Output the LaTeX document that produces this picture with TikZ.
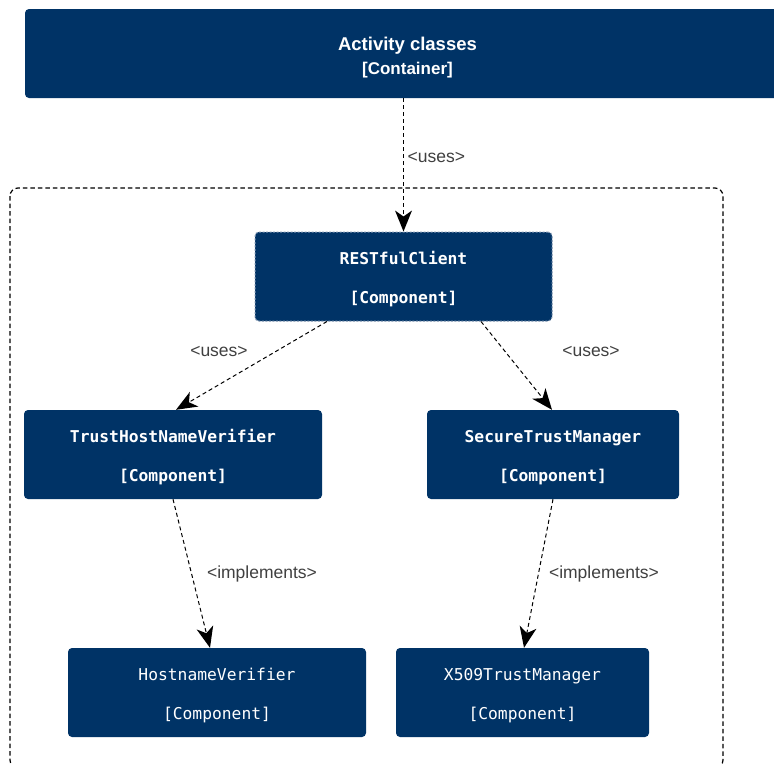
\documentclass[tikz,border=0pt]{standalone}
\usepackage{fontspec}
\setmainfont{Liberation Sans}
\newfontfamily\monof{DejaVu Sans Mono}
\usetikzlibrary{arrows.meta,calc}
\definecolor{navy}{HTML}{003366}
\definecolor{rcedge}{HTML}{7F95B0}
\definecolor{labelgray}{HTML}{404040}
% two centred lines, optionally lowered inside their box
\newcommand{\twoline}[3][0pt]{%
  \raisebox{-#1}[\height][\depth]{\begin{tabular}{@{}c@{}}#2\\{}#3\end{tabular}}}
\tikzset{
  container/.style={fill=navy, draw=none, rounded corners=4pt, text=white,
    inner sep=0pt, font=\fontsize{17}{24}\selectfont\bfseries},
  comp/.style={fill=navy, draw=none, rounded corners=4pt, text=white,
    inner sep=0pt, minimum height=89pt,
    font=\monof\fontsize{16.3}{39}\selectfont\bfseries},
  compthin/.style={comp, font=\monof\fontsize{16.3}{39}\selectfont},
  headtip/.tip={Stealth[length=21pt,width=17pt,inset=6pt,line width=0pt]},
  conn/.style={draw=black, line width=1pt, dash pattern=on 4pt off 3pt,
    -headtip},
  frame/.style={draw=black, line width=1.2pt, dash pattern=on 4.5pt off 3pt,
    rounded corners=8pt},
  lbl/.style={text=labelgray, inner sep=0pt, font=\fontsize{17.5}{20}\selectfont}
}
\begin{document}
\begin{tikzpicture}[x=1pt,y=-1pt]
\useasboundingbox (0,0) rectangle (774,764);
\clip (0,0) rectangle (774,764);
\fill[white] (0,0) rectangle (774,764);

% outer dashed boundary of the component group
\draw[frame] (10,188) rectangle (723,768);

% container box, running past the right edge
\node[container, minimum width=765pt, minimum height=89pt] (act) at (407.5,53.5)
  {\twoline[4pt]{\fontsize{18.5}{24}\selectfont Activity classes}{[Container]}};

% components
\node[comp, minimum width=297pt, draw=rcedge, line width=1pt,
  dash pattern=on 2pt off 1.5pt] (rc) at (403.5,276.5)
  {\twoline{RESTfulClient}{[Component]}};
\node[comp, minimum width=298pt] (thv) at (173,454.5)
  {\twoline{TrustHostNameVerifier}{[Component]}};
\node[comp, minimum width=252pt] (stm) at (553,454.5)
  {\twoline{SecureTrustManager}{[Component]}};
\node[compthin, minimum width=298pt] (hv) at (217,692.5)
  {\twoline{HostnameVerifier}{[Component]}};
\node[compthin, minimum width=253pt] (x509) at (522.5,692.5)
  {\twoline{X509TrustManager}{[Component]}};

% connectors
\draw[conn] (act.south -| rc.north) -- (rc.north);
\draw[conn] ([xshift=-76.5pt]rc.south) -- ([xshift=3pt]thv.north);
\draw[conn] ([xshift=77.5pt]rc.south) -- ([xshift=-1pt]stm.north);
\draw[conn] (thv.south) -- ([xshift=-7pt]hv.north);
\draw[conn] (stm.south) -- ([xshift=1.5pt]x509.north);

% connector labels
\node[lbl, anchor=west] (l1) at (407.5,157) {<uses>};
\node[lbl] (l2) at (219,351) {<uses>};
\node[lbl] (l3) at (591,351) {<uses>};
\node[lbl] (l4) at (262,574) {<implements>};
\node[lbl] (l5) at (604,574) {<implements>};
\end{tikzpicture}
\end{document}
